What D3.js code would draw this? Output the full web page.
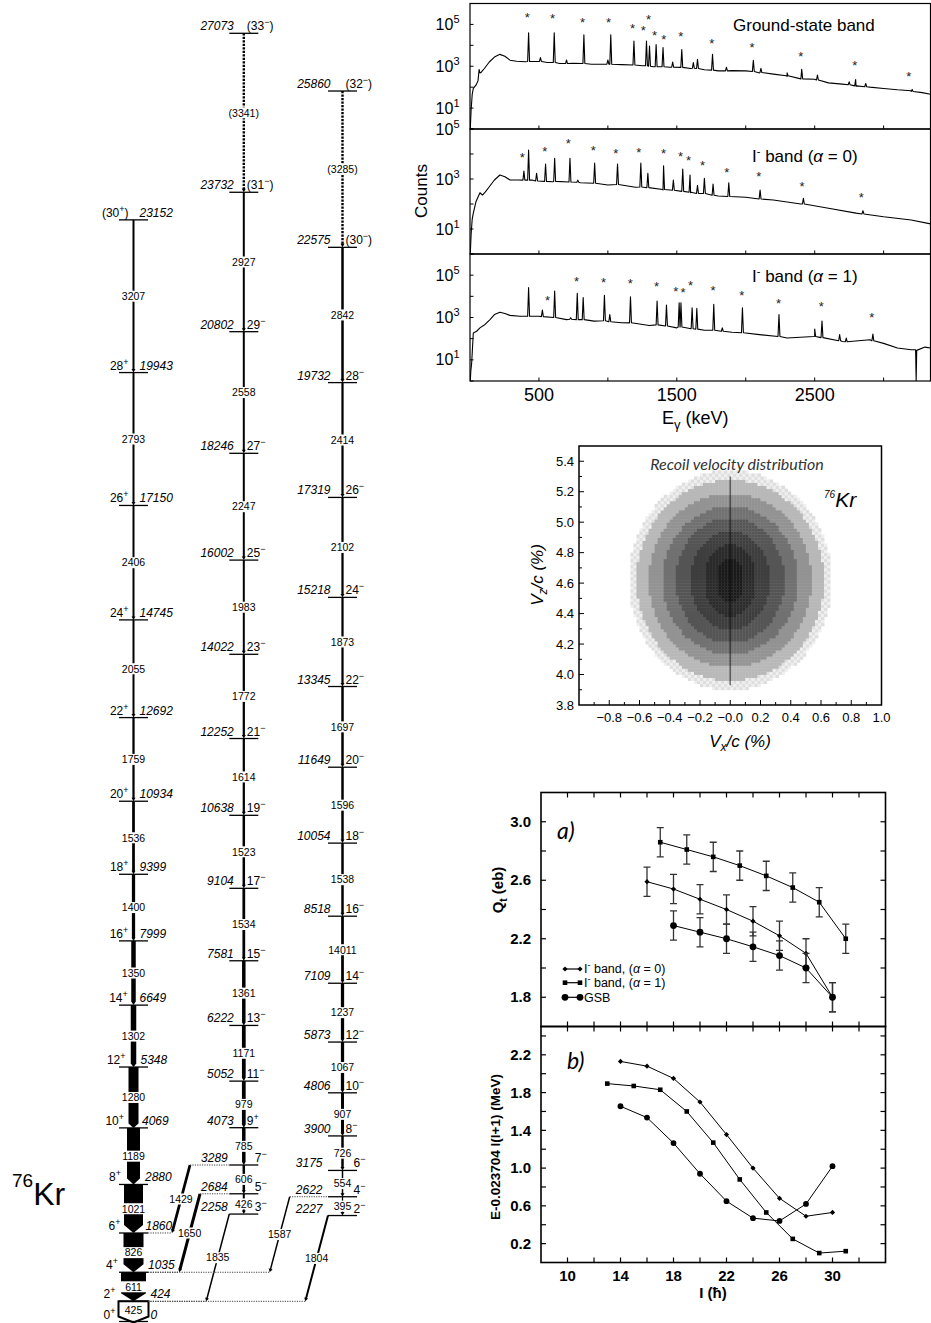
<!DOCTYPE html>
<html>
<head>
<meta charset="utf-8">
<script src="https://cdn.jsdelivr.net/npm/d3@7"></script>
<style>
  body { margin: 0; background: #fff; }
  svg { display: block; }
</style>
</head>
<body>
<script>
// ---------------- level scheme ----------------
const gsbEnergy = [0, 424, 1035, 1860, 2880, 4069, 5348, 6649, 7999, 9399, 10934, 12692, 14745, 17150, 19943, 23152];
const gsbSpin = ["0+", "2+", "4+", "6+", "8+", "10+", "12+", "14+", "16+", "18+", "20+", "22+", "24+", "26+", "28+", "(30+)"];
const gsbGamma = ["425", "611", "826", "1021", "1189", "1280", "1302", "1350", "1400", "1536", "1759", "2055", "2406", "2793", "3207"];
const gsbIntensity = [120, 100, 80, 76, 52, 40, 22, 18, 13, 11, 9, 8, 8, 8, 8];

const oddEnergy = [2258, 2684, 3289, 4073, 5052, 6222, 7581, 9104, 10638, 12252, 14022, 16002, 18246, 20802, 23732, 27073];
const oddSpin = ["3-", "5-", "7-", "9+", "11-", "13-", "15-", "17-", "19-", "21-", "23-", "25-", "27-", "29-", "(31-)", "(33-)"];
const oddGamma = ["426", "606", "785", "979", "1171", "1361", "1534", "1523", "1614", "1772", "1983", "2247", "2558", "2927", "(3341)"];
const oddIntensity = [8, 10, 14, 15, 15, 14, 11, 10, 9, 9, 8, 8, 8, 8, 9];

const evenEnergy = [2227, 2622, 3175, 3900, 4806, 5873, 7109, 8518, 10054, 11649, 13345, 15218, 17319, 19732, 22575, 25860];
const evenSpin = ["2-", "4-", "6-", "8-", "10-", "12-", "14-", "16-", "18-", "20-", "22-", "24-", "26-", "28-", "(30-)", "(32-)"];
const evenGamma = ["395", "554", "726", "907", "1067", "1237", "14011", "1538", "1596", "1697", "1873", "2102", "2414", "2842", "(3285)"];
const evenIntensity = [5, 6, 10, 12, 13, 13, 11, 10, 10, 10, 9, 9, 9, 10, 9];

// inter-band transitions
const linkGamma = ["1429", "1650", "1835", "1587", "1804"];
const linkFrom = [3289, 2684, 2258, 2622, 2227];
const linkTo = [1860, 1035, 424, 1035, 424];
const linkIntensity = [11, 12, 6, 6, 8];
const linkBand = ["odd", "odd", "odd", "even", "even"];

// ---------------- gamma spectra (E in keV, counts) ----------------
const gsbBg = [[2,1],[8,8],[16,45],[24,87],[43,125],[58,200],[66,700],[72,480],[82,520],[104,780],[140,1600],[177,2750],[217,3700],[253,3000],[290,1950],[338,1740],[400,1650],[480,1700],[560,1500],[650,1350],[750,1400],[880,1250],[980,1250],[1100,1200],[1250,1050],[1330,950],[1450,900],[1600,780],[1700,680],[1800,600],[1900,620],[2000,600],[2100,480],[2200,420],[2300,330],[2400,250],[2500,240],[2600,160],[2700,140],[2800,110],[2900,100],[3000,87],[3100,75],[3200,67],[3280,55],[3340,46]];
const gsbPeaks = [[425,40000,1700],[511,2600,1700],[611,40000,1500],[700,2000,1350],[826,32000,1350],[1000,2000,1250],[1021,32000,1250],[1189,16000,1150],[1280,16000,1050],[1302,9300,1000],[1350,11000,950],[1400,7800,950],[1470,1600,900],[1536,6300,880],[1620,1500,800],[1650,2150,780],[1759,3700,650],[1860,900,600],[2055,1950,560],[2110,800,500],[2300,480,350],[2406,720,250],[2520,380,220],[2750,180,130],[2797,230,115],[2870,150,105],[3207,78,62]];
const gsbStars = [[415,3.0e5],[599,2.6e5],[816,1.7e5],[1005,1.7e5],[1179,8.7e4],[1256,6.9e4],[1295,2.4e5],[1338,4.2e4],[1406,2.7e4],[1529,3.6e4],[1754,1.7e4],[2046,1.1e4],[2399,4000],[2790,1500],[3183,450]];

const a0Bg = [[2,1],[8,6],[16,25],[24,43],[43,123],[72,282],[90,229],[110,300],[140,490],[177,912],[217,1445],[253,1230],[290,912],[350,912],[450,912],[600,776],[800,708],[1000,575],[1200,468],[1400,363],[1600,282],[1800,209],[2000,186],[2200,145],[2400,100],[2600,68],[2800,43],[3000,31],[3200,23],[3340,16]];
const a0Peaks = [[391,2100,900],[425,14500,900],[483,1700,830],[548,4000,800],[614,6800,800],[725,6800,760],[782,900,740],[904,4300,680],[1070,4000,600],[1239,4300,480],[1290,1700,450],[1404,3400,380],[1475,900,355],[1543,2500,320],[1596,1450,295],[1650,560,265],[1700,1070,263],[1763,630,224],[1877,710,200],[2104,363,158],[2418,170,100],[2850,54,40]];
const a0Stars = [[379,9800],[543,1.7e4],[713,3.4e4],[894,1.9e4],[1058,1.35e4],[1225,1.5e4],[1403,1.35e4],[1527,1.07e4],[1585,7100],[1686,4700],[1862,2450],[2094,1700],[2408,680],[2838,245]];

const a1Bg = [[2,1],[6,3],[12,7],[24,186],[48,224],[72,324],[109,468],[145,794],[177,1380],[217,1780],[253,1550],[290,1260],[362,1150],[500,1150],[700,794],[900,676],[1100,562],[1300,417],[1500,324],[1700,251],[1900,200],[2100,155],[2300,107],[2500,129],[2700,74],[2900,89],[3000,60],[3100,36],[3200,30],[3232,30],[3236,1],[3240,28],[3300,40],[3340,36]];
const a1Peaks = [[425,25700,1150],[525,2240,1100],[614,17800,1000],[730,980,830],[778,13800,794],[821,8700,794],[975,11200,700],[1014,1380,630],[1164,9550,560],[1357,6030,447],[1425,3890,398],[1517,5000,355],[1530,5000,355],[1611,2880,295],[1645,2690,282],[1768,4170,251],[1830,324,224],[1976,2880,191],[2241,1380,126],[2500,288,126],[2553,676,112],[2681,155,80],[2729,107,71],[2922,166,79]];
const a1Stars = [[563,8700],[773,6.9e4],[969,6.0e4],[1162,5.4e4],[1353,4.0e4],[1493,2.3e4],[1546,2.0e4],[1599,4.5e4],[1763,2.6e4],[1971,1.5e4],[2237,6600],[2548,4500],[2915,1350]];

const specTicks = [500, 1000, 1500, 2000, 2500, 3000];
const specTickLabels = [500, 1500, 2500];

// ---------------- recoil velocity (contour bands of the 2D histogram) ----------------
const recoilCenter = [0.0, 4.62];
const recoilRx = [0.67, 0.62, 0.54, 0.45, 0.36, 0.26, 0.17, 0.09];
const recoilRz = [0.72, 0.66, 0.57, 0.485, 0.41, 0.33, 0.24, 0.15];
const recoilGray = ["#dedede", "#b8b8b8", "#939393", "#717171", "#555555", "#3e3e3e", "#2b2b2b", "#1b1b1b"];

// ---------------- Qt and reference energy ----------------
const qtSpinA0 = [16, 18, 20, 22, 24, 26, 28, 30];
const qtA0 = [2.59, 2.54, 2.47, 2.40, 2.32, 2.22, 2.10, 1.80];
const qtSpinA1 = [17, 19, 21, 23, 25, 27, 29, 31];
const qtA1 = [2.86, 2.81, 2.76, 2.70, 2.63, 2.55, 2.45, 2.20];
const qtSpinGsb = [18, 20, 22, 24, 26, 28, 30];
const qtGsb = [2.29, 2.245, 2.20, 2.145, 2.085, 2.0, 1.80];
const qtErr = 0.10;

const eSpinA0 = [14, 16, 18, 20, 22, 24, 26, 28, 30];
const eA0 = [2.13, 2.08, 1.95, 1.70, 1.355, 1.0, 0.68, 0.49, 0.53];
const eSpinA1 = [13, 15, 17, 19, 21, 23, 25, 27, 29, 31];
const eA1 = [1.895, 1.87, 1.83, 1.60, 1.27, 0.88, 0.53, 0.25, 0.10, 0.12];
const eSpinGsb = [14, 16, 18, 20, 22, 24, 26, 28, 30];
const eGsb = [1.655, 1.535, 1.265, 0.94, 0.65, 0.47, 0.44, 0.62, 1.02];

const FONT = "'Liberation Sans', Arial, Helvetica, sans-serif";

const svg = d3.select("body").append("svg")
    .attr("width", 931)
    .attr("height", 1323)
    .style("font-family", FONT);

// =====================================================================
// Level scheme
// =====================================================================
const yE = d3.scaleLinear().domain([0, 27073]).range([1321.5, 33.3]);
const wScale = d3.scaleLinear().domain([0, 100]).range([0, 25]);
const colX = { gsb: 133.5, odd: 243.8, even: 342.5 };
const halfLevel = 14.5;

const scheme = svg.append("g");
const gTrans = scheme.append("g");
const gLevels = scheme.append("g");
const gLabels = scheme.append("g");

function arrowPath(x1, y1, x2, y2, w) {
    const L = Math.hypot(x2 - x1, y2 - y1);
    const ux = (x2 - x1) / L, uy = (y2 - y1) / L, nx = -uy, ny = ux;
    const hw = Math.max(w, 4) / 2;
    const hl = Math.min(Math.max(w * 0.45, 3.5), 8);
    const bx = x2 - ux * hl, by = y2 - uy * hl;
    const pts = [
        [x1 + nx * w / 2, y1 + ny * w / 2], [bx + nx * w / 2, by + ny * w / 2],
        [bx + nx * hw, by + ny * hw], [x2, y2], [bx - nx * hw, by - ny * hw],
        [bx - nx * w / 2, by - ny * w / 2], [x1 - nx * w / 2, y1 - ny * w / 2]
    ];
    return "M" + pts.map(p => p.map(v => v.toFixed(2)).join(",")).join("L") + "Z";
}

function gammaLabel(x, y, text, w) {
    const t = gLabels.append("text")
        .attr("x", x).attr("y", y + 3.8)
        .attr("text-anchor", "middle")
        .attr("font-size", "10.5px")
        .text(text);
    const len = t.node().getComputedTextLength();
    const bw = Math.max(len + 2, w + 2);
    gLabels.insert("rect", () => t.node())
        .attr("x", x - bw / 2).attr("y", y - 5.5)
        .attr("width", bw).attr("height", 11)
        .attr("fill", "#fff");
}

function spinLabel(x, y, s, anchor) {
    const m = s.match(/^(\(?)(\d+)([+-])(\)?)$/);
    const t = gLabels.append("text")
        .attr("x", x).attr("y", y)
        .attr("text-anchor", anchor)
        .attr("font-size", "12px");
    t.append("tspan").text(m[1] + m[2]);
    t.append("tspan").attr("dy", -5).attr("font-size", "9px").text(m[3] === "+" ? "+" : "\u2212");
    if (m[4]) t.append("tspan").attr("dy", 5).text(m[4]);
}

function drawBand(key, energy, spin, gammas, inten) {
    const cx = colX[key];
    gammas.forEach((gl, i) => {
        const y1 = yE(energy[i + 1]), y2 = yE(energy[i]);
        const w = wScale(inten[i]);
        if (key === "gsb" && i === 0) {
            // strongest transition drawn open, label inside
            gTrans.append("path")
                .attr("d", `M${cx - 15},${y1}L${cx + 15},${y1}L${cx + 15},${y2 - 5}L${cx},${y2 + 1}L${cx - 15},${y2 - 5}Z`)
                .attr("fill", "#fff").attr("stroke", "#000").attr("stroke-width", 2);
            gLabels.append("text").attr("x", cx).attr("y", (y1 + y2) / 2 + 3)
                .attr("text-anchor", "middle").attr("font-size", "10.5px").text(gl);
            return;
        }
        if (gl.startsWith("(")) {
            gTrans.append("line")
                .attr("x1", cx).attr("x2", cx).attr("y1", y1).attr("y2", y2 - 3)
                .attr("stroke", "#000").attr("stroke-width", 2.4)
                .attr("stroke-dasharray", "2.2,1.3");
            gTrans.append("path").attr("d", arrowPath(cx, y2 - 4, cx, y2, 2)).attr("fill", "#000");
        } else {
            gTrans.append("path").attr("d", arrowPath(cx, y1, cx, y2, w)).attr("fill", "#000");
        }
        gammaLabel(cx, (y1 + y2) / 2, gl, key === "gsb" ? w : 0);
    });

    energy.forEach((e, i) => {
        const y = yE(e);
        gLevels.append("line")
            .attr("x1", cx - halfLevel).attr("x2", cx + halfLevel)
            .attr("y1", y).attr("y2", y)
            .attr("stroke", "#000").attr("stroke-width", 1.3);
        let wmax = 0;
        if (key === "gsb") {
            if (i > 0) wmax = Math.max(wmax, i === 1 ? 30 : wScale(inten[i - 1]));
            if (i < inten.length) wmax = Math.max(wmax, i === 0 ? 30 : wScale(inten[i]));
            spinLabel(cx - Math.max(wmax / 2 + 3, 5), y - 3, spin[i], "end");
            gLabels.append("text")
                .attr("x", cx + Math.max(wmax / 2 + 2, 6)).attr("y", y - 3)
                .attr("font-size", "12px").attr("font-style", "italic")
                .text(e);
        } else {
            const low = e < 3500;
            const eOff = key === "odd" ? (low ? 16 : 10) : (low ? 20 : 12);
            const sOff = low ? 11 : 3;
            gLabels.append("text")
                .attr("x", cx - eOff).attr("y", y - 3)
                .attr("text-anchor", "end")
                .attr("font-size", "12px").attr("font-style", "italic")
                .text(e);
            spinLabel(cx + sOff, y - 3, spin[i], "start");
        }
    });
}

drawBand("gsb", gsbEnergy, gsbSpin, gsbGamma, gsbIntensity);
drawBand("odd", oddEnergy, oddSpin, oddGamma, oddIntensity);
drawBand("even", evenEnergy, evenSpin, evenGamma, evenIntensity);

// linking transitions (slanted) with dotted level extensions
const linkTopShift = [-39.3, -29.3, 0, -38.3, 0];
const linkSlope = 0.265;
linkGamma.forEach((gl, i) => {
    const left = colX[linkBand[i]] - halfLevel;
    const x1 = left + linkTopShift[i];
    const y1 = yE(linkFrom[i]);
    const y2 = yE(linkTo[i]);
    const x2 = x1 - linkSlope * (y2 - y1);
    const w = wScale(linkIntensity[i]);
    gTrans.append("path").attr("d", arrowPath(x1, y1, x2, y2, w)).attr("fill", "#000");
    if (x1 < left) {
        gLevels.append("line").attr("x1", x1).attr("x2", left).attr("y1", y1).attr("y2", y1)
            .attr("stroke", "#444").attr("stroke-width", 1).attr("stroke-dasharray", "1.2,1.2");
    }
    gLevels.append("line").attr("x1", colX.gsb + halfLevel).attr("x2", x2).attr("y1", y2).attr("y2", y2)
        .attr("stroke", "#444").attr("stroke-width", 1).attr("stroke-dasharray", "1.2,1.2");
    gammaLabel((x1 + x2) / 2, (y1 + y2) / 2, gl, 0);
});

// nucleus label
const kr = svg.append("text").attr("x", 12).attr("y", 1205).attr("font-size", "32px");
kr.append("tspan").attr("font-size", "19px").attr("dy", -18).text("76");
kr.append("tspan").attr("dy", 18).text("Kr");

// =====================================================================
// Gamma-ray spectra
// =====================================================================
const specX = d3.scaleLinear().domain([0, 3340]).range([470, 930.5]);
const specPanels = [
    { bg: gsbBg, peaks: gsbPeaks, stars: gsbStars, top: 3.5, bottom: 129, max: 1e6, lab: [733, 31], name: "gsb" },
    { bg: a0Bg, peaks: a0Peaks, stars: a0Stars, top: 129, bottom: 254, max: 1e5, lab: [752, 162], name: "a0" },
    { bg: a1Bg, peaks: a1Peaks, stars: a1Stars, top: 254, bottom: 381, max: 1e6, lab: [752, 282], name: "a1" }
];

specPanels.forEach((p, k) => {
    const y = d3.scaleLog().domain([1, p.max]).range([p.bottom, p.top]);
    const g = svg.append("g");
    g.append("clipPath").attr("id", "spclip" + k)
        .append("rect").attr("x", 470).attr("y", p.top).attr("width", 461).attr("height", p.bottom - p.top);

    const pts = p.bg.concat(p.peaks.flatMap(d => [[d[0] - 7, d[2]], [d[0], d[1]], [d[0] + 7, d[2]]]))
        .sort((a, b) => a[0] - b[0]);
    g.append("path").datum(pts)
        .attr("clip-path", `url(#spclip${k})`)
        .attr("fill", "none").attr("stroke", "#000").attr("stroke-width", 1.1)
        .attr("stroke-linejoin", "round")
        .attr("d", d3.line().x(d => specX(d[0])).y(d => y(Math.max(d[1], 1))));

    g.selectAll(".star").data(p.stars).join("text")
        .attr("x", d => specX(d[0])).attr("y", d => y(d[1]) + 7.5)
        .attr("text-anchor", "middle").attr("font-size", "13px").attr("fill", "#222")
        .text("*");

    g.append("rect").attr("x", 470).attr("y", p.top).attr("width", 460.5).attr("height", p.bottom - p.top)
        .attr("fill", "none").attr("stroke", "#000").attr("stroke-width", 1.2);

    specTicks.forEach(t => {
        g.append("line").attr("x1", specX(t)).attr("x2", specX(t))
            .attr("y1", p.bottom).attr("y2", p.bottom - 3.5)
            .attr("stroke", "#000").attr("stroke-width", 1);
    });
    const decades = d3.range(0, Math.round(Math.log10(p.max)) + 1);
    decades.forEach(d => {
        const yy = y(Math.pow(10, d));
        g.append("line").attr("x1", 470).attr("x2", 473.5).attr("y1", yy).attr("y2", yy)
            .attr("stroke", "#000").attr("stroke-width", 1);
        if (d % 2 === 1) {
            const t = g.append("text").attr("x", 459.5).attr("y", yy + 5.5)
                .attr("text-anchor", "end").attr("font-size", "16px");
            t.append("tspan").text("10");
            t.append("tspan").attr("dy", -7).attr("font-size", "11px").text(d);
        }
    });

    const lt = g.append("text").attr("x", p.lab[0]).attr("y", p.lab[1]).attr("font-size", "17px");
    if (p.name === "gsb") {
        lt.text("Ground-state band");
    } else {
        lt.append("tspan").text("I");
        lt.append("tspan").attr("dy", -7).attr("font-size", "11px").text("-");
        lt.append("tspan").attr("dy", 7).text(" band (");
        lt.append("tspan").attr("font-style", "italic").text("\u03b1");
        lt.append("tspan").text(p.name === "a0" ? " = 0)" : " = 1)");
    }
});

specTickLabels.forEach(t => {
    svg.append("text").attr("x", specX(t)).attr("y", 400.5)
        .attr("text-anchor", "middle").attr("font-size", "18px").text(t);
});
const eg = svg.append("text").attr("x", 662).attr("y", 424).attr("font-size", "18px");
eg.append("tspan").text("E");
eg.append("tspan").attr("dy", 5).attr("font-size", "13px").text("\u03b3");
eg.append("tspan").attr("dy", -5).text("  (keV)");
svg.append("text").attr("transform", "translate(427,191) rotate(-90)")
    .attr("text-anchor", "middle").attr("font-size", "17px").text("Counts");

// =====================================================================
// Recoil velocity distribution
// =====================================================================
const rvx = d3.scaleLinear().domain([-1, 1]).range([579, 881.5]);
const rvz = d3.scaleLinear().domain([3.8, 5.5]).range([705, 446]);
const rg = svg.append("g");
const step = 0.02;
const cells = [];
d3.range(-36, 36).forEach(i => {
    d3.range(0, 80).forEach(j => {
        const vx = i * step, vz = 3.84 + j * step;
        const cxv = vx + step / 2 - recoilCenter[0], czv = vz + step / 2 - recoilCenter[1];
        let lev = -1;
        recoilRx.forEach((r, k) => {
            if ((cxv / r) ** 2 + (czv / recoilRz[k]) ** 2 <= 1) lev = k;
        });
        if (lev >= 0) cells.push({ vx, vz, lev, odd: (i + j) % 2 !== 0 });
    });
});
rg.selectAll("rect").data(cells).join("rect")
    .attr("x", d => rvx(d.vx)).attr("y", d => rvz(d.vz + step))
    .attr("width", rvx(step) - rvx(0) + 0.4).attr("height", rvz(0) - rvz(step) + 0.4)
    .attr("fill", d => d.lev === 0 && d.odd ? "#efefef" : recoilGray[d.lev]);
rg.append("line").attr("x1", rvx(0)).attr("x2", rvx(0)).attr("y1", rvz(5.3)).attr("y2", rvz(3.93))
    .attr("stroke", "#000").attr("stroke-opacity", 0.5).attr("stroke-width", 1.6);

rg.append("rect").attr("x", 579).attr("y", 446).attr("width", 302.5).attr("height", 259)
    .attr("fill", "none").attr("stroke", "#000").attr("stroke-width", 1.5);

d3.range(-9, 10).forEach(i => {
    const v = i / 10, major = i % 2 === 0;
    rg.append("line").attr("x1", rvx(v)).attr("x2", rvx(v)).attr("y1", 705).attr("y2", 705 - (major ? 5 : 3))
        .attr("stroke", "#000").attr("stroke-width", 1);
});
d3.range(-8, 11, 2).forEach(i => {
    const v = i / 10;
    const lab = i === 0 ? "\u22120.0" : (i < 0 ? "\u2212" : "") + Math.abs(v).toFixed(1);
    rg.append("text").attr("x", rvx(v)).attr("y", 722).attr("text-anchor", "middle")
        .attr("font-size", "13px").text(lab);
});
d3.range(39, 55).forEach(i => {
    const v = i / 10, major = i % 2 === 0;
    rg.append("line").attr("x1", 579).attr("x2", 579 + (major ? 5 : 3)).attr("y1", rvz(v)).attr("y2", rvz(v))
        .attr("stroke", "#000").attr("stroke-width", 1);
});
d3.range(38, 55, 2).forEach(i => {
    const v = i / 10;
    rg.append("text").attr("x", 574).attr("y", rvz(v) + 4.5).attr("text-anchor", "end")
        .attr("font-size", "13px").text(v.toFixed(1));
});
rg.append("text").attr("x", 737).attr("y", 470).attr("text-anchor", "middle")
    .attr("font-family", "Lato, 'Open Sans', sans-serif").attr("font-style", "italic")
    .attr("font-size", "16px").attr("fill", "#333").text("Recoil velocity distribution");
const kr2 = rg.append("text").attr("x", 824).attr("y", 507).attr("font-size", "21px").attr("font-style", "italic");
kr2.append("tspan").attr("font-size", "10px").attr("dy", -9).text("76");
kr2.append("tspan").attr("dy", 9).text("Kr");

const vxl = rg.append("text").attr("x", 740).attr("y", 747).attr("text-anchor", "middle")
    .attr("font-size", "17px").attr("font-style", "italic");
vxl.append("tspan").text("V");
vxl.append("tspan").attr("dy", 4).attr("font-size", "12px").text("x");
vxl.append("tspan").attr("dy", -4).text("/c (%)");
const vzl = rg.append("text").attr("transform", "translate(543,575) rotate(-90)").attr("text-anchor", "middle")
    .attr("font-size", "17px").attr("font-style", "italic");
vzl.append("tspan").text("V");
vzl.append("tspan").attr("dy", 4).attr("font-size", "12px").text("z");
vzl.append("tspan").attr("dy", -4).text("/c (%)");

// =====================================================================
// Qt (a) and reference energy (b)
// =====================================================================
const qx = d3.scaleLinear().domain([8, 34]).range([541, 885.5]);
const qa = d3.scaleLinear().domain([1.6, 3.2]).range([1026.5, 792.5]);
const qb = d3.scaleLinear().domain([0, 2.5]).range([1262.5, 1026.5]);
const qg = svg.append("g");

function frame(ys, ticks, labels) {
    const [yBot, yTop] = ys.range();
    qg.append("rect").attr("x", 541).attr("y", yTop).attr("width", 344.5).attr("height", yBot - yTop)
        .attr("fill", "none").attr("stroke", "#000").attr("stroke-width", 1.6);
    d3.range(10, 33, 2).forEach(v => {
        const x = qx(v);
        qg.append("line").attr("x1", x).attr("x2", x).attr("y1", yTop).attr("y2", yTop + 5).attr("stroke", "#000").attr("stroke-width", 1.2);
        qg.append("line").attr("x1", x).attr("x2", x).attr("y1", yBot).attr("y2", yBot - 5).attr("stroke", "#000").attr("stroke-width", 1.2);
    });
    ticks.forEach(v => {
        const y = ys(v);
        qg.append("line").attr("x1", 541).attr("x2", 546).attr("y1", y).attr("y2", y).attr("stroke", "#000").attr("stroke-width", 1.2);
        qg.append("line").attr("x1", 885.5).attr("x2", 880.5).attr("y1", y).attr("y2", y).attr("stroke", "#000").attr("stroke-width", 1.2);
    });
    labels.forEach(v => {
        qg.append("text").attr("x", 531).attr("y", ys(v) + 5.2).attr("text-anchor", "end")
            .attr("font-size", "15px").attr("font-weight", "bold").text(v.toFixed(1));
    });
}
frame(qa, d3.range(1.8, 3.01, 0.2), [1.8, 2.2, 2.6, 3.0]);
frame(qb, d3.range(0.2, 2.41, 0.2), [0.2, 0.6, 1.0, 1.4, 1.8, 2.2]);

function marker(g, type, x, y, big) {
    if (type === "circle") {
        g.append("circle").attr("cx", x).attr("cy", y).attr("r", big ? 3.4 : 2.9).attr("fill", "#000");
    } else if (type === "square") {
        const s = 4.6;
        g.append("rect").attr("x", x - s / 2).attr("y", y - s / 2).attr("width", s).attr("height", s).attr("fill", "#000");
    } else {
        const h = 2.6;
        g.append("path").attr("d", `M${x},${y - h}L${x + h},${y}L${x},${y + h}L${x - h},${y}Z`).attr("fill", "#000");
    }
}

function series(ys, spins, vals, type, err, big) {
    const pts = spins.map((s, i) => [qx(s), ys(vals[i])]);
    qg.append("path").attr("d", d3.line()(pts)).attr("fill", "none").attr("stroke", "#000").attr("stroke-width", 1);
    if (err) {
        vals.forEach((v, i) => {
            const x = qx(spins[i]), y1 = ys(v - err), y2 = ys(v + err);
            qg.append("path").attr("d", `M${x},${y1}L${x},${y2}M${x - 3.5},${y1}L${x + 3.5},${y1}M${x - 3.5},${y2}L${x + 3.5},${y2}`)
                .attr("stroke", "#333").attr("stroke-width", 1.3).attr("fill", "none");
        });
    }
    pts.forEach(p => marker(qg, type, p[0], p[1], big));
}
series(qa, qtSpinA1, qtA1, "square", qtErr);
series(qa, qtSpinA0, qtA0, "diamond", qtErr);
series(qa, qtSpinGsb, qtGsb, "circle", qtErr, true);
series(qb, eSpinA0, eA0, "diamond");
series(qb, eSpinA1, eA1, "square");
series(qb, eSpinGsb, eGsb, "circle");

// legend (a)
const legTypes = ["diamond", "square", "circle"];
const legNames = ["0", "1", "GSB"];
[969, 982.7, 997.3].forEach((y, i) => {
    qg.append("line").attr("x1", 565).attr("x2", 580).attr("y1", y).attr("y2", y).attr("stroke", "#000").attr("stroke-width", 1.2);
    marker(qg, legTypes[i], 565, y, i === 2);
    marker(qg, legTypes[i], 580, y, i === 2);
    const t = qg.append("text").attr("x", 584).attr("y", y + 4.3).attr("font-size", "12.5px");
    if (legNames[i] === "GSB") {
        t.text("GSB");
    } else {
        t.append("tspan").text("I");
        t.append("tspan").attr("dy", -5).attr("font-size", "9px").text("-");
        t.append("tspan").attr("dy", 5).text(" band, (");
        t.append("tspan").attr("font-style", "italic").text("\u03b1");
        t.append("tspan").text(" = " + legNames[i] + ")");
    }
});

qg.append("text").attr("x", 557).attr("y", 839).attr("font-family", "Lato, 'Open Sans', sans-serif")
    .attr("font-style", "italic").attr("font-size", "23px").text("a)");
qg.append("text").attr("x", 567).attr("y", 1069).attr("font-family", "Lato, 'Open Sans', sans-serif")
    .attr("font-style", "italic").attr("font-size", "23px").text("b)");

d3.range(10, 31, 4).forEach(v => {
    qg.append("text").attr("x", qx(v)).attr("y", 1281).attr("text-anchor", "middle")
        .attr("font-size", "15px").attr("font-weight", "bold").text(v);
});
qg.append("text").attr("x", 713).attr("y", 1298).attr("text-anchor", "middle")
    .attr("font-size", "15px").attr("font-weight", "bold").text("I (\u0127)");

const qtl = qg.append("text").attr("transform", "translate(503,890) rotate(-90)").attr("text-anchor", "middle")
    .attr("font-size", "15px").attr("font-weight", "bold");
qtl.append("tspan").text("Q");
qtl.append("tspan").attr("dy", 4).attr("font-size", "10px").text("t");
qtl.append("tspan").attr("dy", -4).text(" (eb)");
qg.append("text").attr("transform", "translate(500,1147) rotate(-90)").attr("text-anchor", "middle")
    .attr("font-size", "13.5px").attr("font-weight", "bold").text("E-0.023704 I(I+1) (MeV)");
</script>
</body>
</html>
